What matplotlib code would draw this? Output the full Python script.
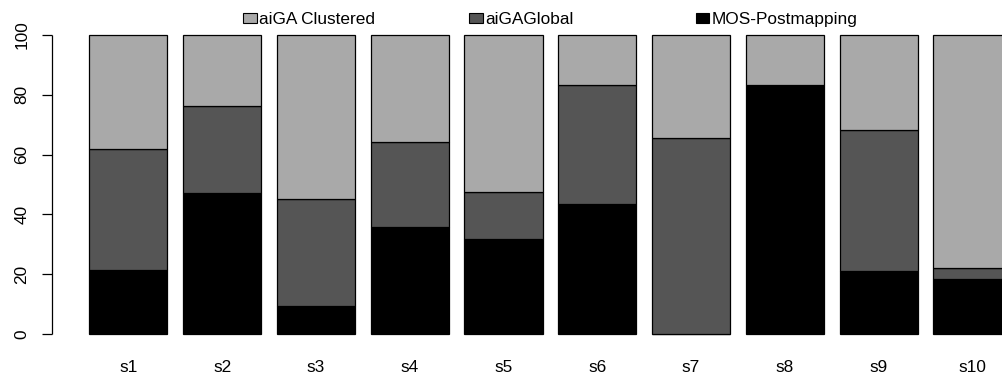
import matplotlib
matplotlib.use("Agg")
import matplotlib.pyplot as plt
from matplotlib.patches import Rectangle
import numpy as np

plt.rcParams['font.family'] = ['Liberation Sans', 'DejaVu Sans']

samples = ["s1", "s2", "s3", "s4", "s5", "s6", "s7", "s8", "s9", "s10"]
series = ["aiGA Clustered", "aiGAGlobal", "MOS-Postmapping"]
mos_postmapping = [21.5, 47.1, 9.5, 35.7, 31.8, 43.4, 0.0, 83.2, 21.0, 18.6]
aiga_global = [40.2, 29.2, 35.7, 28.5, 15.8, 39.8, 65.6, 0.0, 47.3, 3.5]
aiga_clustered = [100 - m - g for m, g in zip(mos_postmapping, aiga_global)]
colors = ["#a9a9a9", "#555555", "#000000"]
yticks = [0, 20, 40, 60, 80, 100]

W, H, DPI = 1002, 378, 100
fig = plt.figure(figsize=(W / DPI, H / DPI), dpi=DPI)
ax = fig.add_axes([0, 0, 1, 1])
ax.set_xlim(-0.943, 11.879)
ax.set_ylim(-14.6, 111.6)
ax.axis("off")

FS = 12.4
width = 1.0
space = 0.2
lefts = space + np.arange(len(samples)) * (width + space)
centers = lefts + width / 2

# stacked bars: bottom segment first
stack = [mos_postmapping, aiga_global, aiga_clustered]
stack_colors = [colors[2], colors[1], colors[0]]
bottom = np.zeros(len(samples))
for vals, col in zip(stack, stack_colors):
    vals = np.asarray(vals)
    ax.bar(centers, vals, width=width, bottom=bottom, color=col,
           edgecolor="black", linewidth=0.9)
    bottom += vals

# y axis drawn R-style, offset from the bars
axis_x = -0.273
ax.plot([axis_x, axis_x], [0, 100], color="black", lw=0.9, solid_capstyle="butt")
tick_len = 10 / 78.15
for v in yticks:
    ax.plot([axis_x - tick_len, axis_x], [v, v], color="black", lw=0.9,
            solid_capstyle="butt")
    ax.text(-0.665, v, str(v), rotation=90, ha="center", va="center",
            fontsize=FS)

for c, name in zip(centers, samples):
    ax.text(c, -11.0, name, ha="center", va="center", fontsize=FS)

# legend across the top
box_px = [243.3, 469.3, 695.5]
box_w, box_h, box_top = 13.4, 10.0, 13.3
baseline = 24.0
for px, name, col in zip(box_px, series, colors):
    fx = px / W
    fy = 1 - (box_top + box_h) / H
    fig.patches.append(Rectangle((fx, fy), box_w / W, box_h / H,
                                 transform=fig.transFigure, facecolor=col,
                                 edgecolor="black", linewidth=0.8))
    fig.text((px + 16) / W, 1 - baseline / H, name, ha="left",
             va="baseline", fontsize=FS)

fig.savefig("out.png", dpi=DPI)
